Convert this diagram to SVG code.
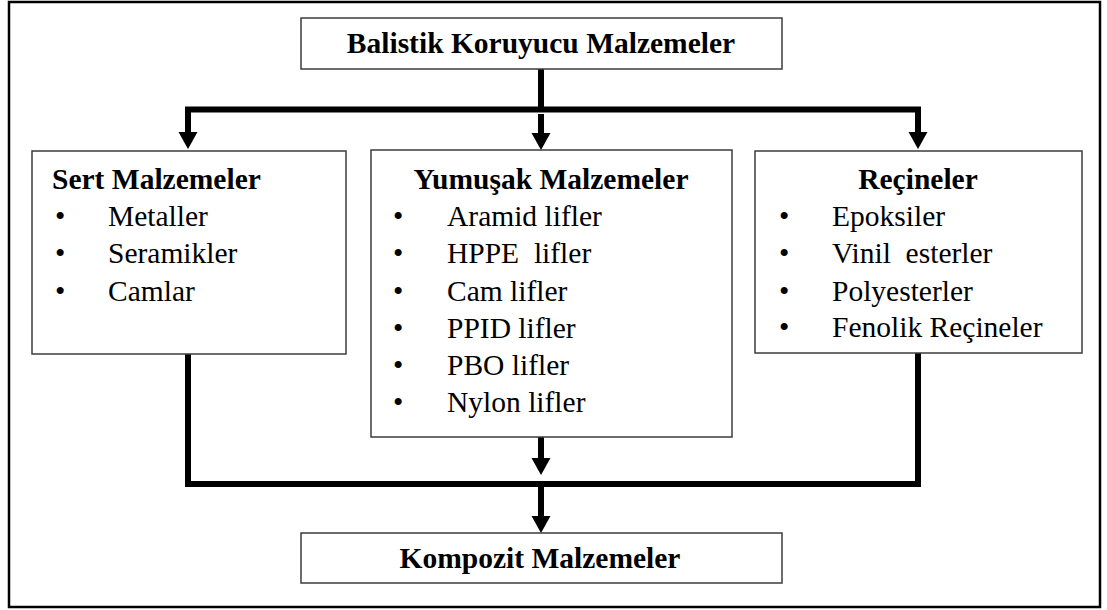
<svg xmlns="http://www.w3.org/2000/svg" width="1107" height="610" viewBox="0 0 1107 610">
  <style>
    .box { fill: #ffffff; stroke: #3c3c3c; stroke-width: 1.5; }
    .frame { fill: #ffffff; stroke: #000000; stroke-width: 2.5; }
    .conn { fill: none; stroke: #000000; stroke-width: 6; stroke-linejoin: miter; stroke-linecap: butt; }
    text { font-family: "Liberation Serif", "Times New Roman", serif; fill: #000000; font-size: 29.5px; }
    .head { font-weight: bold; }
    .mid { text-anchor: middle; }
    .pre { white-space: pre; }
  </style>
  <defs>
    <marker id="arrow" markerUnits="userSpaceOnUse" markerWidth="18" markerHeight="20" refX="0" refY="9.5" orient="auto" overflow="visible">
      <path d="M0,0 L17,9.5 L0,19 z" fill="#000000"/>
    </marker>
  </defs>

  <!-- outer frame -->
  <rect class="frame" x="9" y="2" width="1091" height="605"/>

  <!-- connectors -->
  <g id="connectors">
    <path class="conn" d="M541,69 V109.5"/>
    <path class="conn" d="M541,109.5 H188 V132" marker-end="url(#arrow)"/>
    <path class="conn" d="M541,109.5 H918 V132" marker-end="url(#arrow)"/>
    <path class="conn" d="M541,114 V133" marker-end="url(#arrow)"/>
    <path class="conn" d="M188,354 V484 H918 V353"/>
    <path class="conn" d="M541,437 V458" marker-end="url(#arrow)"/>
    <path class="conn" d="M541,484 V516" marker-end="url(#arrow)"/>
  </g>

  <!-- root -->
  <g id="node-balistik">
    <rect class="box" x="301" y="18" width="481" height="51"/>
    <text class="head mid" x="541" y="53">Balistik Koruyucu Malzemeler</text>
  </g>

  <!-- hard materials -->
  <g id="node-sert">
    <rect class="box" x="32" y="151" width="314" height="203"/>
    <text class="head" x="52" y="189">Sert Malzemeler</text>
    <text x="55" y="226">•</text><text x="108" y="226">Metaller</text>
    <text x="55" y="263">•</text><text x="108" y="263">Seramikler</text>
    <text x="55" y="301">•</text><text x="108" y="301">Camlar</text>
  </g>

  <!-- soft materials -->
  <g id="node-yumusak">
    <rect class="box" x="371" y="150" width="361" height="287"/>
    <text class="head mid" x="551" y="189">Yumuşak Malzemeler</text>
    <text x="393" y="226">•</text><text x="447" y="226">Aramid lifler</text>
    <text x="393" y="263">•</text><text class="pre" x="447" y="263">HPPE  lifler</text>
    <text x="393" y="301">•</text><text x="447" y="301">Cam lifler</text>
    <text x="393" y="338">•</text><text x="447" y="338">PPID lifler</text>
    <text x="393" y="375">•</text><text x="447" y="375">PBO lifler</text>
    <text x="393" y="412">•</text><text x="447" y="412">Nylon lifler</text>
  </g>

  <!-- resins -->
  <g id="node-recineler">
    <rect class="box" x="755" y="151" width="327" height="202"/>
    <text class="head mid" x="918" y="189">Reçineler</text>
    <text x="779" y="226">•</text><text x="832" y="226">Epoksiler</text>
    <text x="779" y="263">•</text><text class="pre" x="832" y="263">Vinil  esterler</text>
    <text x="779" y="301">•</text><text x="832" y="301">Polyesterler</text>
    <text x="779" y="337">•</text><text x="832" y="337">Fenolik Reçineler</text>
  </g>

  <!-- composite -->
  <g id="node-kompozit">
    <rect class="box" x="301" y="533" width="481" height="50"/>
    <text class="head mid" x="540" y="568">Kompozit Malzemeler</text>
  </g>
</svg>
